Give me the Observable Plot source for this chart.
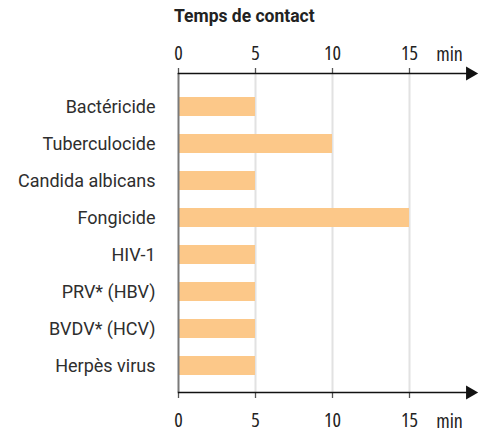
<!DOCTYPE html>
<html>
<head>
<meta charset="utf-8">
<script src="https://cdn.jsdelivr.net/npm/d3@7"></script>
<script src="https://cdn.jsdelivr.net/npm/@observablehq/plot@0.6"></script>
<style>
  body { margin: 0; background: #fff; }
  #wrap { position: relative; width: 482px; height: 432px; font-family: "Open Sans", sans-serif; }
  #title { position: absolute; left: 174px; top: 5px; font-family: Roboto, sans-serif; font-size: 17.5px; line-height: 22px; font-weight: bold; color: #222; }
  #chart { position: absolute; left: 0; top: 30px; }
  #chart svg text { font-stretch: 75%; }
  #chart g[aria-label="y-axis tick label"] text { font-stretch: 100%; font-family: Roboto, sans-serif; }
</style>
</head>
<body>
<div id="wrap">
  <div id="title">Temps de contact</div>
  <div id="chart"></div>
</div>
<script>
const categories = ["Bactéricide", "Tuberculocide", "Candida albicans", "Fongicide", "HIV-1", "PRV* (HBV)", "BVDV* (HCV)", "Herpès virus"];
const minutes = [5, 10, 5, 15, 5, 5, 5, 5];
const tickValues = [0, 5, 10, 15];
const gridValues = [5, 10, 15];
const unitLabel = "min";
const unitLabelAt = 17.6;
const axisMax = 19;

const data = categories.map((c, i) => ({name: c, value: minutes[i]}));
const font = '"Open Sans", sans-serif';

const chart = Plot.plot({
  width: 482,
  height: 402,
  marginLeft: 178,
  marginRight: 11.4,
  marginTop: 43,
  marginBottom: 40,
  style: {fontFamily: font, color: "#222", background: "#fff"},
  x: {domain: [0, axisMax]},
  y: {domain: categories, range: [55, 358], paddingInner: 0.485, paddingOuter: 0.24},
  marks: [
    Plot.ruleX(gridValues, {stroke: "#e2e2e2", strokeWidth: 2}),
    Plot.barX(data, {x: "value", y: "name", fill: "#FCC889"}),
    Plot.ruleX([0], {stroke: "#7a7a7a", strokeWidth: 2}),
    Plot.axisY({tickSize: 0, tickPadding: 23, fontSize: 18, label: null, color: "#2e2e2e"}),
    Plot.axisX({anchor: "top", ticks: tickValues, tickSize: 6, tickPadding: 8, fontSize: 20, label: null, stroke: "#555", strokeWidth: 1.3, color: "#222"}),
    Plot.axisX({anchor: "bottom", ticks: tickValues, tickSize: 6, tickPadding: 14, fontSize: 20, label: null, stroke: "#555", strokeWidth: 1.3, color: "#222"}),
    Plot.frame({anchor: "top", stroke: "#111", strokeWidth: 1.5}),
    Plot.frame({anchor: "bottom", stroke: "#111", strokeWidth: 1.5}),
    Plot.dot([axisMax], {x: d => d, frameAnchor: "top", symbol: "triangle", rotate: 90, r: 5.2, fill: "#111", stroke: "none", dx: -1}),
    Plot.dot([axisMax], {x: d => d, frameAnchor: "bottom", symbol: "triangle", rotate: 90, r: 5.2, fill: "#111", stroke: "none", dx: -1}),
    Plot.text([unitLabel], {x: () => unitLabelAt, frameAnchor: "top", dy: -27, fontSize: 20, fill: "#222", text: d => d}),
    Plot.text([unitLabel], {x: () => unitLabelAt, frameAnchor: "bottom", dy: 35, fontSize: 20, fill: "#222", text: d => d})
  ]
});
document.getElementById("chart").appendChild(chart);
</script>
</body>
</html>
